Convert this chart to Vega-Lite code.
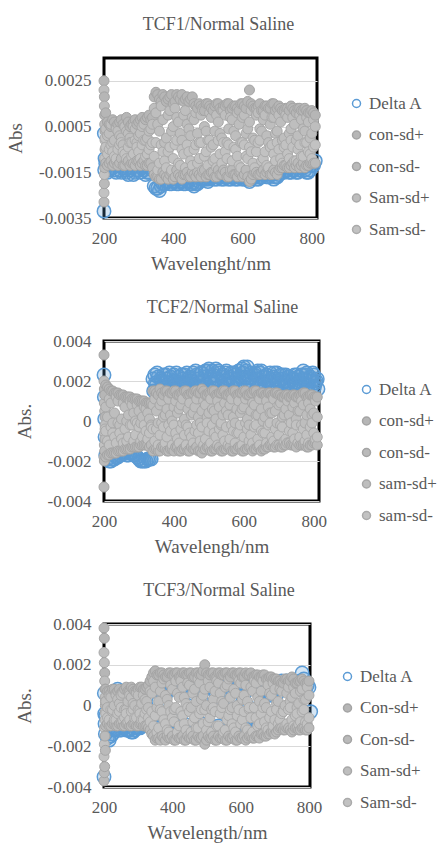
{
"$schema": "https://vega.github.io/schema/vega-lite/v6.json",
"background": "white",
"padding": {"left": 5, "top": 14, "right": 0, "bottom": 0},
"spacing": 22,
"config": {
  "font": "Liberation Serif",
  "view": {"stroke": "black", "strokeWidth": 3},
  "axis": {"labelFont": "Liberation Serif", "labelFontSize": 17, "labelColor": "#595959", "titleFont": "Liberation Serif", "titleFontSize": 19, "titleColor": "#595959", "titleFontWeight": "normal", "domain": false, "ticks": false, "grid": false, "labelFlush": false},
  "axisY": {"grid": true, "gridColor": "#d9d9d9", "gridWidth": 1, "labelPadding": 13, "titlePadding": 13},
  "axisX": {"labelPadding": 12, "titlePadding": 8},
  "title": {"font": "Liberation Serif", "fontSize": 18, "color": "#595959", "fontWeight": "normal", "offset": 24},
  "legend": {"symbolSize": 64, "symbolStrokeWidth": 1.5, "labelFontSize": 17, "labelFont": "Liberation Serif", "labelColor": "#595959", "rowPadding": 13.5, "labelOffset": 4, "padding": 0}
},
"resolve": {"scale": {"x": "independent", "y": "independent", "fill": "independent", "stroke": "independent"}, "legend": {"fill": "independent", "stroke": "independent"}},
"vconcat": [
{
  "title": {"text": "TCF1/Normal Saline", "dx": 8},
  "width": 213, "height": 160,
  "data": {"values": [
{"w":200,"d":-0.0032,"cp":0.0025,"sp":0.0021,"cm":-0.0028,"sm":-0.0024},
{"w":201,"d":0.0002,"cp":0.0018,"sp":0.0014,"cm":-0.002,"sm":-0.0016},
{"w":202,"d":-0.0014,"cp":0.001,"sp":0.0006,"cm":-0.0013,"sm":-0.0009},
{"w":203,"d":-0.0009,"cp":0.0003,"sp":-0.0001,"cm":-0.0005,"sm":0},
{"w":205,"d":-0.0011,"cp":0.0011,"sp":0.0004,"cm":-0.0011,"sm":-0.0004},
{"w":210,"d":-0.0015,"cp":0.0007,"sp":0.0001,"cm":-0.0012,"sm":-0.0007},
{"w":215,"d":-0.0014,"cp":0.0006,"sp":0.0002,"cm":-0.0011,"sm":-0.0005},
{"w":220,"d":-0.0013,"cp":0.0005,"sp":0.0006,"cm":-0.001,"sm":-0.0003},
{"w":225,"d":-0.0013,"cp":0.0008,"sp":-0.0002,"cm":-0.0012,"sm":-0.0006},
{"w":230,"d":-0.0014,"cp":0.0007,"sp":-0.0001,"cm":-0.0011,"sm":-0.0008},
{"w":235,"d":-0.0015,"cp":0.0005,"sp":0.0004,"cm":-0.001,"sm":-0.0009},
{"w":240,"d":-0.0012,"cp":0.0006,"sp":0.0003,"cm":-0.0012,"sm":-0.0005},
{"w":245,"d":-0.0014,"cp":0.0007,"sp":0.0001,"cm":-0.0011,"sm":-0.0003},
{"w":250,"d":-0.0015,"cp":0.0008,"sp":0,"cm":-0.0009,"sm":-0.0002},
{"w":255,"d":-0.0013,"cp":0.0006,"sp":-0.0003,"cm":-0.0012,"sm":-0.0006},
{"w":260,"d":-0.0014,"cp":0.0005,"sp":0.0005,"cm":-0.0012,"sm":-0.0007},
{"w":265,"d":-0.0015,"cp":0.0009,"sp":0.0003,"cm":-0.001,"sm":-0.0009},
{"w":270,"d":-0.0016,"cp":0.0007,"sp":0.0002,"cm":-0.001,"sm":-0.0004},
{"w":275,"d":-0.0014,"cp":0.0005,"sp":0,"cm":-0.0012,"sm":-0.0002},
{"w":280,"d":-0.0013,"cp":0.0006,"sp":-0.0002,"cm":-0.0011,"sm":-0.0008},
{"w":285,"d":-0.0016,"cp":0.0007,"sp":0.0005,"cm":-0.0011,"sm":-0.0007},
{"w":290,"d":-0.0015,"cp":0.0008,"sp":0.0004,"cm":-0.0012,"sm":-0.0001},
{"w":295,"d":-0.0014,"cp":0.0006,"sp":-0.0002,"cm":-0.001,"sm":-0.0004},
{"w":300,"d":-0.0014,"cp":0.0007,"sp":0.0001,"cm":-0.001,"sm":-0.0006},
{"w":305,"d":-0.0015,"cp":0.0008,"sp":0.0002,"cm":-0.0012,"sm":-0.0009},
{"w":310,"d":-0.0013,"cp":0.0009,"sp":0.0005,"cm":-0.0011,"sm":-0.0003},
{"w":315,"d":-0.0014,"cp":0.0007,"sp":0.0006,"cm":-0.001,"sm":-0.0001},
{"w":320,"d":-0.0016,"cp":0.0008,"sp":-0.0001,"cm":-0.0012,"sm":-0.0008},
{"w":325,"d":-0.0015,"cp":0.0009,"sp":0,"cm":-0.0012,"sm":-0.0007},
{"w":330,"d":-0.0015,"cp":0.001,"sp":0.0003,"cm":-0.0011,"sm":-0.0005},
{"w":335,"d":-0.0013,"cp":0.0008,"sp":0.0004,"cm":-0.0011,"sm":-0.0003},
{"w":340,"d":-0.0014,"cp":0.0009,"sp":0.0006,"cm":-0.0013,"sm":-0.0002},
{"w":345,"d":-0.0021,"cp":0.0018,"sp":0.0013,"cm":-0.0016,"sm":-0.0008},
{"w":350,"d":-0.0022,"cp":0.002,"sp":0.0011,"cm":-0.0017,"sm":-0.0002},
{"w":355,"d":-0.0022,"cp":0.0019,"sp":0.0006,"cm":-0.0017,"sm":-0.0014},
{"w":360,"d":-0.0023,"cp":0.0017,"sp":0.0003,"cm":-0.0018,"sm":-0.0011},
{"w":365,"d":-0.0021,"cp":0.0016,"sp":0.0014,"cm":-0.0018,"sm":-0.0003},
{"w":370,"d":-0.002,"cp":0.0019,"sp":0.0008,"cm":-0.0015,"sm":-0.0006},
{"w":375,"d":-0.002,"cp":0.0018,"sp":-0.0002,"cm":-0.0016,"sm":-0.001},
{"w":380,"d":-0.0019,"cp":0.0016,"sp":0,"cm":-0.0017,"sm":-0.0013},
{"w":385,"d":-0.0019,"cp":0.0017,"sp":0.001,"cm":-0.0018,"sm":-0.0006},
{"w":390,"d":-0.002,"cp":0.0018,"sp":0.0012,"cm":-0.0016,"sm":-0.0004},
{"w":395,"d":-0.002,"cp":0.0019,"sp":0.0003,"cm":-0.0015,"sm":-0.0014},
{"w":400,"d":-0.0019,"cp":0.0015,"sp":0.0005,"cm":-0.0018,"sm":-0.0009},
{"w":405,"d":-0.0019,"cp":0.0016,"sp":0.0013,"cm":-0.0017,"sm":-0.0003},
{"w":410,"d":-0.002,"cp":0.0019,"sp":0.0009,"cm":-0.0014,"sm":-0.0001},
{"w":415,"d":-0.002,"cp":0.0018,"sp":0.0007,"cm":-0.0016,"sm":-0.0011},
{"w":420,"d":-0.0019,"cp":0.0017,"sp":0.0002,"cm":-0.0017,"sm":-0.0012},
{"w":425,"d":-0.0019,"cp":0.0019,"sp":-0.0001,"cm":-0.0018,"sm":-0.0005},
{"w":430,"d":-0.002,"cp":0.0016,"sp":0.001,"cm":-0.0016,"sm":-0.0007},
{"w":435,"d":-0.002,"cp":0.0017,"sp":0.0012,"cm":-0.0016,"sm":-0.0013},
{"w":440,"d":-0.0019,"cp":0.0018,"sp":0.0006,"cm":-0.0015,"sm":-0.0003},
{"w":445,"d":-0.0019,"cp":0.0016,"sp":0.0004,"cm":-0.0017,"sm":-0.0006},
{"w":450,"d":-0.002,"cp":0.0017,"sp":0.0001,"cm":-0.0017,"sm":-0.001},
{"w":455,"d":-0.002,"cp":0.0018,"sp":0.0009,"cm":-0.0015,"sm":-0.0012},
{"w":460,"d":-0.0021,"cp":0.0015,"sp":0.0008,"cm":-0.0016,"sm":-0.0005},
{"w":465,"d":-0.002,"cp":0.0014,"sp":0.0011,"cm":-0.0017,"sm":-0.0003},
{"w":470,"d":-0.002,"cp":0.0013,"sp":0.0002,"cm":-0.0015,"sm":-0.0011},
{"w":475,"d":-0.0019,"cp":0.0015,"sp":-0.0002,"cm":-0.0016,"sm":-0.0009},
{"w":480,"d":-0.0018,"cp":0.0014,"sp":0.001,"cm":-0.0017,"sm":-0.0002},
{"w":485,"d":-0.0018,"cp":0.0013,"sp":0.0012,"cm":-0.0015,"sm":-0.0014},
{"w":490,"d":-0.0018,"cp":0.0012,"sp":0.0005,"cm":-0.0014,"sm":-0.0008},
{"w":495,"d":-0.0018,"cp":0.0015,"sp":0.0003,"cm":-0.0017,"sm":-0.0006},
{"w":500,"d":-0.0019,"cp":0.0015,"sp":-0.0001,"cm":-0.0016,"sm":-0.0012},
{"w":505,"d":-0.0018,"cp":0.0014,"sp":0.0011,"cm":-0.0016,"sm":-0.0001},
{"w":510,"d":-0.0017,"cp":0.0013,"sp":0.0009,"cm":-0.0015,"sm":-0.0004},
{"w":515,"d":-0.0017,"cp":0.0012,"sp":-0.0003,"cm":-0.0015,"sm":-0.001},
{"w":520,"d":-0.0018,"cp":0.0014,"sp":0.0003,"cm":-0.0017,"sm":-0.0009},
{"w":525,"d":-0.0018,"cp":0.0015,"sp":0.001,"cm":-0.0017,"sm":-0.0013},
{"w":530,"d":-0.0017,"cp":0.0015,"sp":0.0007,"cm":-0.0014,"sm":-0.0001},
{"w":535,"d":-0.0017,"cp":0.0013,"sp":0.0002,"cm":-0.0016,"sm":-0.0007},
{"w":540,"d":-0.0018,"cp":0.0012,"sp":0,"cm":-0.0016,"sm":-0.0011},
{"w":545,"d":-0.0018,"cp":0.0014,"sp":0.0012,"cm":-0.0014,"sm":-0.0002},
{"w":550,"d":-0.0017,"cp":0.0014,"sp":0.001,"cm":-0.0015,"sm":-0.0006},
{"w":555,"d":-0.0017,"cp":0.0015,"sp":-0.0002,"cm":-0.0017,"sm":-0.0009},
{"w":560,"d":-0.0018,"cp":0.0015,"sp":0.0004,"cm":-0.0017,"sm":-0.0003},
{"w":565,"d":-0.0018,"cp":0.0012,"sp":0.0009,"cm":-0.0015,"sm":-0.0014},
{"w":570,"d":-0.0017,"cp":0.0013,"sp":0.0008,"cm":-0.0014,"sm":-0.001},
{"w":575,"d":-0.0017,"cp":0.0014,"sp":0.0003,"cm":-0.0016,"sm":-0.0004},
{"w":580,"d":-0.0018,"cp":0.0014,"sp":0.0001,"cm":-0.0016,"sm":-0.0005},
{"w":585,"d":-0.0018,"cp":0.0013,"sp":0.0011,"cm":-0.0017,"sm":-0.0008},
{"w":590,"d":-0.0017,"cp":0.0012,"sp":0.0006,"cm":-0.0015,"sm":-0.0012},
{"w":595,"d":-0.0017,"cp":0.0015,"sp":-0.0002,"cm":-0.0015,"sm":-0.0013},
{"w":600,"d":-0.0018,"cp":0.0015,"sp":0.0009,"cm":-0.0017,"sm":-0.0002},
{"w":605,"d":-0.0018,"cp":0.0014,"sp":0.001,"cm":-0.0016,"sm":-0.0003},
{"w":610,"d":-0.0017,"cp":0.0013,"sp":0.0002,"cm":-0.0014,"sm":-0.0008},
{"w":615,"d":-0.0018,"cp":0.0016,"sp":0.0004,"cm":-0.0017,"sm":-0.0009},
{"w":620,"d":-0.0019,"cp":0.0021,"sp":0.0007,"cm":-0.0019,"sm":-0.0004},
{"w":625,"d":-0.0018,"cp":0.0015,"sp":0.0012,"cm":-0.0018,"sm":-0.0006},
{"w":630,"d":-0.0017,"cp":0.0014,"sp":0,"cm":-0.0016,"sm":-0.0011},
{"w":635,"d":-0.0017,"cp":0.0013,"sp":-0.0001,"cm":-0.0015,"sm":-0.0013},
{"w":640,"d":-0.0018,"cp":0.0013,"sp":0.001,"cm":-0.0015,"sm":-0.0006},
{"w":645,"d":-0.0018,"cp":0.0014,"sp":0.0011,"cm":-0.0016,"sm":-0.0002},
{"w":650,"d":-0.0017,"cp":0.0015,"sp":0.0004,"cm":-0.0016,"sm":-0.0001},
{"w":655,"d":-0.0017,"cp":0.0012,"sp":0.0003,"cm":-0.0015,"sm":-0.001},
{"w":660,"d":-0.0016,"cp":0.0012,"sp":0.0008,"cm":-0.0014,"sm":-0.0009},
{"w":665,"d":-0.0016,"cp":0.0014,"sp":0.001,"cm":-0.0016,"sm":-0.0006},
{"w":670,"d":-0.0017,"cp":0.0014,"sp":0.0001,"cm":-0.0015,"sm":-0.0012},
{"w":675,"d":-0.0017,"cp":0.0013,"sp":-0.0002,"cm":-0.0014,"sm":-0.0013},
{"w":680,"d":-0.0016,"cp":0.0013,"sp":0.0006,"cm":-0.0016,"sm":-0.0004},
{"w":685,"d":-0.0016,"cp":0.0015,"sp":0.0009,"cm":-0.0016,"sm":-0.0003},
{"w":690,"d":-0.0018,"cp":0.0015,"sp":0.0009,"cm":-0.0014,"sm":-0.0007},
{"w":695,"d":-0.0017,"cp":0.0012,"sp":0.0002,"cm":-0.0015,"sm":-0.001},
{"w":700,"d":-0.0017,"cp":0.0013,"sp":0.0003,"cm":-0.0016,"sm":-0.0002},
{"w":705,"d":-0.0016,"cp":0.0014,"sp":0.001,"cm":-0.0014,"sm":-0.0005},
{"w":710,"d":-0.0014,"cp":0.0013,"sp":0.0007,"cm":-0.0013,"sm":-0.0009},
{"w":715,"d":-0.0015,"cp":0.0012,"sp":-0.0001,"cm":-0.0013,"sm":-0.0011},
{"w":720,"d":-0.0015,"cp":0.0012,"sp":0,"cm":-0.0012,"sm":-0.0004},
{"w":725,"d":-0.0014,"cp":0.0013,"sp":0.001,"cm":-0.0012,"sm":-0.0003},
{"w":730,"d":-0.0014,"cp":0.0013,"sp":0.0009,"cm":-0.0013,"sm":-0.0007},
{"w":735,"d":-0.0015,"cp":0.0012,"sp":0.0002,"cm":-0.0013,"sm":-0.0009},
{"w":740,"d":-0.0015,"cp":0.0014,"sp":0.0004,"cm":-0.0012,"sm":-0.0001},
{"w":745,"d":-0.0014,"cp":0.0013,"sp":0.0009,"cm":-0.0011,"sm":-0.0004},
{"w":750,"d":-0.0014,"cp":0.0012,"sp":0.0006,"cm":-0.0013,"sm":-0.001},
{"w":755,"d":-0.0015,"cp":0.0011,"sp":-0.0001,"cm":-0.0012,"sm":-0.001},
{"w":760,"d":-0.0015,"cp":0.0013,"sp":0.0001,"cm":-0.0011,"sm":-0.0005},
{"w":765,"d":-0.0014,"cp":0.0013,"sp":0.001,"cm":-0.0013,"sm":-0.0003},
{"w":770,"d":-0.0013,"cp":0.0012,"sp":0.0008,"cm":-0.0012,"sm":-0.0008},
{"w":775,"d":-0.0013,"cp":0.0012,"sp":0.0004,"cm":-0.0011,"sm":-0.0008},
{"w":780,"d":-0.0014,"cp":0.0013,"sp":0.0003,"cm":-0.0013,"sm":-0.0002},
{"w":785,"d":-0.0015,"cp":0.0012,"sp":0.0009,"cm":-0.0012,"sm":-0.0002},
{"w":790,"d":-0.0015,"cp":0.0011,"sp":0.0007,"cm":-0.0012,"sm":-0.0006},
{"w":795,"d":-0.0014,"cp":0.0011,"sp":0,"cm":-0.0011,"sm":-0.0007},
{"w":800,"d":-0.0012,"cp":0.0012,"sp":0.0002,"cm":-0.0011,"sm":-0.0009},
{"w":805,"d":-0.0012,"cp":0.0011,"sp":0.0008,"cm":-0.0011,"sm":-0.0004},
{"w":810,"d":-0.001,"cp":0.001,"sp":0.0005,"cm":-0.0011,"sm":-0.0003}
  ]},
  "transform": [{"fold": ["d", "cp", "cm", "sp", "sm"], "as": ["k", "v"]}],
  "encoding": {
    "x": {"field": "w", "type": "quantitative", "scale": {"domain": [200, 815], "nice": false, "zero": false}, "axis": {"values": [200, 400, 600, 800], "title": "Wavelenght/nm"}},
    "y": {"field": "v", "type": "quantitative", "scale": {"domain": [-0.0035, 0.0035], "nice": false, "zero": false}, "axis": {"values": [-0.0035, -0.0015, 0.0005, 0.0025], "title": "Abs", "labelExpr": "'' + datum.value"}},
    "fill": {"field": "k", "type": "nominal", "scale": {"domain": ["d", "cp", "cm", "sp", "sm"], "range": ["transparent", "#b6b6b6", "#bababa", "#bebebe", "#c2c2c2"]}, "legend": {"title": null, "orient": "none", "legendX": 244, "legendY": 37, "labelExpr": "datum.value == 'd' ? 'Delta A' : datum.value == 'cp' ? 'con-sd+' : datum.value == 'cm' ? 'con-sd-' : datum.value == 'sp' ? 'Sam-sd+' : 'Sam-sd-'"}},
    "stroke": {"field": "k", "type": "nominal", "scale": {"domain": ["d", "cp", "cm", "sp", "sm"], "range": ["#5b9bd5", "#a4a4a4", "#a4a4a4", "#a8a8a8", "#aaaaaa"]}, "legend": {"title": null, "orient": "none", "legendX": 244, "legendY": 37, "labelExpr": "datum.value == 'd' ? 'Delta A' : datum.value == 'cp' ? 'con-sd+' : datum.value == 'cm' ? 'con-sd-' : datum.value == 'sp' ? 'Sam-sd+' : 'Sam-sd-'"}}
  },
  "layer": [
    {"transform": [{"filter": "datum.k == 'd'"}], "mark": {"type": "circle", "size": 180, "strokeWidth": 1.5, "opacity": 1}, "encoding": {"fill": {"value": "rgba(91,155,213,0.25)"}}},
    {"transform": [{"filter": "datum.k != 'd'"}], "mark": {"type": "circle", "size": 100, "strokeWidth": 1, "opacity": 1}}
  ]
},
{
  "title": {"text": "TCF2/Normal Saline", "dx": 11, "offset": 15},
  "width": 215, "height": 160,
  "data": {"values": [
{"w":200,"d":0.0023,"cp":0.0033,"sp":0.002,"cm":-0.0033,"sm":-0.0018},
{"w":201,"d":0.0012,"cp":0.0016,"sp":0.0009,"cm":-0.002,"sm":-0.0012},
{"w":202,"d":0.0001,"cp":0.0013,"sp":0.0005,"cm":-0.0015,"sm":-0.0006},
{"w":203,"d":-0.0008,"cp":0.0002,"sp":-0.0002,"cm":-0.0009,"sm":-0.0004},
{"w":205,"d":-0.0017,"cp":0.0018,"sp":0.0007,"cm":-0.0018,"sm":-0.0005},
{"w":210,"d":-0.0019,"cp":0.0017,"sp":0.0002,"cm":-0.0017,"sm":-0.001},
{"w":215,"d":-0.002,"cp":0.0016,"sp":0.0011,"cm":-0.0017,"sm":-0.0012},
{"w":220,"d":-0.002,"cp":0.0015,"sp":0.0009,"cm":-0.0016,"sm":-0.0003},
{"w":225,"d":-0.0019,"cp":0.0015,"sp":-0.0001,"cm":-0.0016,"sm":-0.0006},
{"w":230,"d":-0.0019,"cp":0.0014,"sp":0.0004,"cm":-0.0016,"sm":-0.0008},
{"w":235,"d":-0.0018,"cp":0.0014,"sp":0.0012,"cm":-0.0016,"sm":-0.0011},
{"w":240,"d":-0.0018,"cp":0.0014,"sp":0.001,"cm":-0.0015,"sm":-0.0001},
{"w":245,"d":-0.0017,"cp":0.0013,"sp":-0.0002,"cm":-0.0015,"sm":-0.0006},
{"w":250,"d":-0.0016,"cp":0.0013,"sp":0.0001,"cm":-0.0015,"sm":-0.0009},
{"w":255,"d":-0.0016,"cp":0.0013,"sp":0.0009,"cm":-0.0015,"sm":-0.0011},
{"w":260,"d":-0.0016,"cp":0.0012,"sp":0.0007,"cm":-0.0014,"sm":-0.0004},
{"w":265,"d":-0.0017,"cp":0.0012,"sp":0,"cm":-0.0014,"sm":-0.001},
{"w":270,"d":-0.0017,"cp":0.0012,"sp":0.0003,"cm":-0.0014,"sm":-0.0008},
{"w":275,"d":-0.0016,"cp":0.0012,"sp":0.001,"cm":-0.0014,"sm":-0.0002},
{"w":280,"d":-0.0016,"cp":0.0011,"sp":0.0008,"cm":-0.0013,"sm":-0.0002},
{"w":285,"d":-0.0017,"cp":0.0011,"sp":0.0004,"cm":-0.0013,"sm":-0.001},
{"w":290,"d":-0.0017,"cp":0.0011,"sp":0,"cm":-0.0013,"sm":-0.0007},
{"w":295,"d":-0.0018,"cp":0.0011,"sp":0.0008,"cm":-0.0013,"sm":-0.0001},
{"w":300,"d":-0.0019,"cp":0.001,"sp":0.0005,"cm":-0.0013,"sm":-0.0003},
{"w":305,"d":-0.002,"cp":0.001,"sp":-0.0001,"cm":-0.0012,"sm":-0.001},
{"w":310,"d":-0.002,"cp":0.001,"sp":0.0002,"cm":-0.0012,"sm":-0.0008},
{"w":315,"d":-0.002,"cp":0.001,"sp":0.0007,"cm":-0.0012,"sm":-0.0002},
{"w":320,"d":-0.002,"cp":0.0009,"sp":0.0006,"cm":-0.0012,"sm":-0.0005},
{"w":325,"d":-0.0019,"cp":0.0009,"sp":0.0004,"cm":-0.0012,"sm":-0.0009},
{"w":330,"d":-0.0019,"cp":0.0009,"sp":0.0001,"cm":-0.0013,"sm":-0.0006},
{"w":335,"d":-0.0019,"cp":0.0009,"sp":-0.0002,"cm":-0.0012,"sm":-0.0003},
{"w":340,"d":0.0021,"cp":0.0015,"sp":0.0008,"cm":-0.0015,"sm":-0.0004},
{"w":345,"d":0.0023,"cp":0.0015,"sp":0.0011,"cm":-0.0014,"sm":-0.001},
{"w":350,"d":0.0018,"cp":0.0014,"sp":0.0005,"cm":-0.0014,"sm":-0.0004},
{"w":355,"d":0.0022,"cp":0.0013,"sp":-0.0001,"cm":-0.0015,"sm":-0.0012},
{"w":360,"d":0.0016,"cp":0.0016,"sp":0.0008,"cm":-0.0015,"sm":-0.0007},
{"w":365,"d":0.002,"cp":0.0014,"sp":0.001,"cm":-0.0013,"sm":-0.0001},
{"w":370,"d":0.0023,"cp":0.0013,"sp":0.0002,"cm":-0.0013,"sm":-0.0003},
{"w":375,"d":0.0017,"cp":0.0015,"sp":0.0003,"cm":-0.0014,"sm":-0.0011},
{"w":380,"d":0.0021,"cp":0.0015,"sp":0.0006,"cm":-0.0015,"sm":-0.0008},
{"w":385,"d":0.0019,"cp":0.0013,"sp":0.0011,"cm":-0.0015,"sm":-0.0002},
{"w":390,"d":0.0022,"cp":0.0014,"sp":0.0003,"cm":-0.0014,"sm":-0.0005},
{"w":395,"d":0.0016,"cp":0.0014,"sp":0,"cm":-0.0014,"sm":-0.0012},
{"w":400,"d":0.0023,"cp":0.0015,"sp":0.0007,"cm":-0.0015,"sm":-0.0002},
{"w":405,"d":0.002,"cp":0.0015,"sp":0.001,"cm":-0.0013,"sm":-0.0006},
{"w":410,"d":0.0018,"cp":0.0013,"sp":0.0004,"cm":-0.0013,"sm":-0.0009},
{"w":415,"d":0.0022,"cp":0.0013,"sp":0.0006,"cm":-0.0015,"sm":-0.0011},
{"w":420,"d":0.0017,"cp":0.0014,"sp":0.0008,"cm":-0.0015,"sm":-0.0004},
{"w":425,"d":0.0021,"cp":0.0014,"sp":0.0011,"cm":-0.0014,"sm":-0.0001},
{"w":430,"d":0.0023,"cp":0.0015,"sp":0.0001,"cm":-0.0014,"sm":-0.0007},
{"w":435,"d":0.0019,"cp":0.0015,"sp":-0.0002,"cm":-0.0013,"sm":-0.0012},
{"w":440,"d":0.0016,"cp":0.0013,"sp":0.0006,"cm":-0.0015,"sm":-0.0003},
{"w":445,"d":0.0022,"cp":0.0013,"sp":0.0009,"cm":-0.0015,"sm":-0.0006},
{"w":450,"d":0.002,"cp":0.0014,"sp":0.0003,"cm":-0.0013,"sm":-0.0008},
{"w":455,"d":0.0024,"cp":0.0014,"sp":0.0004,"cm":-0.0014,"sm":-0.0011},
{"w":460,"d":0.0018,"cp":0.0015,"sp":0.0007,"cm":-0.0014,"sm":-0.0005},
{"w":465,"d":0.0023,"cp":0.0015,"sp":0.0011,"cm":-0.0013,"sm":-0.0002},
{"w":470,"d":0.0021,"cp":0.0014,"sp":0.0002,"cm":-0.0015,"sm":-0.0006},
{"w":475,"d":0.0017,"cp":0.0014,"sp":-0.0001,"cm":-0.0015,"sm":-0.001},
{"w":480,"d":0.0024,"cp":0.0016,"sp":0.0005,"cm":-0.0016,"sm":-0.0003},
{"w":485,"d":0.002,"cp":0.0015,"sp":0.001,"cm":-0.0014,"sm":-0.0012},
{"w":490,"d":0.0025,"cp":0.0013,"sp":0.0008,"cm":-0.0014,"sm":-0.0009},
{"w":495,"d":0.0018,"cp":0.0013,"sp":0.0002,"cm":-0.0013,"sm":-0.0001},
{"w":500,"d":0.0026,"cp":0.0014,"sp":0.0004,"cm":-0.0013,"sm":-0.0005},
{"w":505,"d":0.0022,"cp":0.0014,"sp":0.0011,"cm":-0.0015,"sm":-0.0011},
{"w":510,"d":0.0025,"cp":0.0015,"sp":0.0006,"cm":-0.0015,"sm":-0.0002},
{"w":515,"d":0.0019,"cp":0.0015,"sp":0.0005,"cm":-0.0014,"sm":-0.0006},
{"w":520,"d":0.0026,"cp":0.0013,"sp":0.0001,"cm":-0.0014,"sm":-0.0008},
{"w":525,"d":0.0021,"cp":0.0013,"sp":0.001,"cm":-0.0013,"sm":-0.0012},
{"w":530,"d":0.0024,"cp":0.0014,"sp":0.0007,"cm":-0.0013,"sm":-0.0004},
{"w":535,"d":0.0017,"cp":0.0014,"sp":-0.0002,"cm":-0.0015,"sm":-0.0001},
{"w":540,"d":0.0023,"cp":0.0015,"sp":0.0003,"cm":-0.0015,"sm":-0.0007},
{"w":545,"d":0.002,"cp":0.0015,"sp":0.0009,"cm":-0.0014,"sm":-0.001},
{"w":550,"d":0.0025,"cp":0.0013,"sp":0.0005,"cm":-0.0014,"sm":-0.0003},
{"w":555,"d":0.0018,"cp":0.0013,"sp":0.0003,"cm":-0.0013,"sm":-0.0012},
{"w":560,"d":0.0022,"cp":0.0014,"sp":0.0008,"cm":-0.0013,"sm":-0.0009},
{"w":565,"d":0.0024,"cp":0.0014,"sp":0.0011,"cm":-0.0015,"sm":-0.0002},
{"w":570,"d":0.0019,"cp":0.0015,"sp":0.0002,"cm":-0.0015,"sm":-0.0005},
{"w":575,"d":0.0023,"cp":0.0015,"sp":-0.0001,"cm":-0.0014,"sm":-0.0011},
{"w":580,"d":0.0021,"cp":0.0013,"sp":0.0006,"cm":-0.0014,"sm":-0.0006},
{"w":585,"d":0.0025,"cp":0.0013,"sp":0.001,"cm":-0.0013,"sm":-0.0006},
{"w":590,"d":0.0018,"cp":0.0014,"sp":0.0004,"cm":-0.0013,"sm":-0.0002},
{"w":595,"d":0.0026,"cp":0.0014,"sp":0.0006,"cm":-0.0015,"sm":-0.0012},
{"w":600,"d":0.0027,"cp":0.0015,"sp":0.0007,"cm":-0.0015,"sm":-0.0008},
{"w":605,"d":0.0022,"cp":0.0015,"sp":0.0011,"cm":-0.0014,"sm":-0.0001},
{"w":610,"d":0.0027,"cp":0.0013,"sp":0.0001,"cm":-0.0014,"sm":-0.0004},
{"w":615,"d":0.002,"cp":0.0013,"sp":-0.0002,"cm":-0.0013,"sm":-0.001},
{"w":620,"d":0.0024,"cp":0.0014,"sp":0.0005,"cm":-0.0013,"sm":-0.0007},
{"w":625,"d":0.0018,"cp":0.0014,"sp":0.0009,"cm":-0.0015,"sm":-0.0011},
{"w":630,"d":0.0023,"cp":0.0015,"sp":0.0008,"cm":-0.0014,"sm":-0.0003},
{"w":635,"d":0.0021,"cp":0.0015,"sp":0.0003,"cm":-0.0014,"sm":-0.0002},
{"w":640,"d":0.0025,"cp":0.0013,"sp":0.0003,"cm":-0.0013,"sm":-0.0009},
{"w":645,"d":0.0019,"cp":0.0013,"sp":0.0011,"cm":-0.0013,"sm":-0.0012},
{"w":650,"d":0.0025,"cp":0.0014,"sp":0.0006,"cm":-0.0015,"sm":-0.0005},
{"w":655,"d":0.0022,"cp":0.0014,"sp":0,"cm":-0.0014,"sm":-0.0006},
{"w":660,"d":0.0017,"cp":0.0013,"sp":0.0002,"cm":-0.0014,"sm":-0.0006},
{"w":665,"d":0.0023,"cp":0.0013,"sp":0.001,"cm":-0.0013,"sm":-0.0011},
{"w":670,"d":0.002,"cp":0.0014,"sp":0.0007,"cm":-0.0013,"sm":-0.0002},
{"w":675,"d":0.0024,"cp":0.0014,"sp":0.0004,"cm":-0.0012,"sm":-0.0001},
{"w":680,"d":0.0018,"cp":0.0013,"sp":0.0004,"cm":-0.0012,"sm":-0.0008},
{"w":685,"d":0.0022,"cp":0.0013,"sp":0.0011,"cm":-0.0013,"sm":-0.001},
{"w":690,"d":0.0021,"cp":0.0014,"sp":0.0005,"cm":-0.0013,"sm":-0.0004},
{"w":695,"d":0.0024,"cp":0.0014,"sp":-0.0001,"cm":-0.0012,"sm":-0.0012},
{"w":700,"d":0.0019,"cp":0.0013,"sp":0.0008,"cm":-0.0012,"sm":-0.0007},
{"w":705,"d":0.0023,"cp":0.0013,"sp":0.0009,"cm":-0.0013,"sm":-0.0002},
{"w":710,"d":0.0021,"cp":0.0012,"sp":0.0002,"cm":-0.0013,"sm":-0.0003},
{"w":715,"d":0.0017,"cp":0.0012,"sp":0.0003,"cm":-0.0012,"sm":-0.001},
{"w":720,"d":0.0023,"cp":0.0013,"sp":0.0006,"cm":-0.0012,"sm":-0.0009},
{"w":725,"d":0.002,"cp":0.0013,"sp":0.001,"cm":-0.0011,"sm":-0.0011},
{"w":730,"d":0.0022,"cp":0.0012,"sp":0.0003,"cm":-0.0011,"sm":-0.0005},
{"w":735,"d":0.0018,"cp":0.0012,"sp":-0.0001,"cm":-0.0012,"sm":-0.0001},
{"w":740,"d":0.0021,"cp":0.0013,"sp":0.0007,"cm":-0.0012,"sm":-0.0006},
{"w":745,"d":0.0023,"cp":0.0013,"sp":0.0009,"cm":-0.0012,"sm":-0.0009},
{"w":750,"d":0.0019,"cp":0.0012,"sp":0.0001,"cm":-0.0013,"sm":-0.0002},
{"w":755,"d":0.0022,"cp":0.0012,"sp":0.0005,"cm":-0.0011,"sm":-0.0011},
{"w":760,"d":0.002,"cp":0.0013,"sp":0.0005,"cm":-0.0012,"sm":-0.0008},
{"w":765,"d":0.0023,"cp":0.0013,"sp":0.001,"cm":-0.0012,"sm":-0.0002},
{"w":770,"d":0.0025,"cp":0.0014,"sp":0.0008,"cm":-0.0012,"sm":-0.0004},
{"w":775,"d":0.0021,"cp":0.0014,"sp":-0.0001,"cm":-0.0012,"sm":-0.001},
{"w":780,"d":0.0024,"cp":0.0012,"sp":0.0003,"cm":-0.0013,"sm":-0.0007},
{"w":785,"d":0.0018,"cp":0.0012,"sp":0.0009,"cm":-0.0013,"sm":-0.0011},
{"w":790,"d":0.0022,"cp":0.0013,"sp":0.0006,"cm":-0.0012,"sm":-0.0003},
{"w":795,"d":0.002,"cp":0.0013,"sp":0.0003,"cm":-0.0012,"sm":-0.0001},
{"w":800,"d":0.0023,"cp":0.0012,"sp":0.0004,"cm":-0.0011,"sm":-0.0006},
{"w":805,"d":0.0019,"cp":0.0012,"sp":0.001,"cm":-0.0011,"sm":-0.0009},
{"w":810,"d":0.0021,"cp":0.0012,"sp":0.0002,"cm":-0.0012,"sm":-0.0008},
{"w":342,"d":0.0015},{"w":347,"d":0.0019},{"w":352,"d":0.0024},{"w":357,"d":0.0014},{"w":362,"d":0.0021},
{"w":367,"d":0.0017},{"w":372,"d":0.0013},{"w":377,"d":0.0023},{"w":382,"d":0.0016},{"w":387,"d":0.0024},
{"w":392,"d":0.0014},{"w":397,"d":0.002},{"w":402,"d":0.0017},{"w":407,"d":0.0024},{"w":412,"d":0.0015},
{"w":417,"d":0.0019},{"w":422,"d":0.0023},{"w":427,"d":0.0014},{"w":432,"d":0.0018},{"w":437,"d":0.0024},
{"w":442,"d":0.0015},{"w":447,"d":0.0021},{"w":452,"d":0.0017},{"w":457,"d":0.0014},{"w":462,"d":0.0025},
{"w":467,"d":0.0016},{"w":472,"d":0.0019},{"w":477,"d":0.0024},{"w":482,"d":0.0015},{"w":487,"d":0.0022},
{"w":492,"d":0.0017},{"w":497,"d":0.0025},{"w":502,"d":0.0015},{"w":507,"d":0.0019},{"w":512,"d":0.0023},
{"w":517,"d":0.0016},{"w":522,"d":0.0021},{"w":527,"d":0.0025},{"w":532,"d":0.0014},{"w":537,"d":0.0022},
{"w":542,"d":0.0017},{"w":547,"d":0.0024},{"w":552,"d":0.0015},{"w":557,"d":0.0021},{"w":562,"d":0.0018},
{"w":567,"d":0.0014},{"w":572,"d":0.0024},{"w":577,"d":0.0016},{"w":582,"d":0.0019},{"w":587,"d":0.0022},
{"w":592,"d":0.0015},{"w":597,"d":0.0024},{"w":602,"d":0.0017},{"w":607,"d":0.0025},{"w":612,"d":0.0015},
{"w":617,"d":0.0022},{"w":622,"d":0.0019},{"w":627,"d":0.0014},{"w":632,"d":0.0024},{"w":637,"d":0.0016},
{"w":642,"d":0.0021},{"w":647,"d":0.0024},{"w":652,"d":0.0015},{"w":657,"d":0.0019},{"w":662,"d":0.0022},
{"w":667,"d":0.0014},{"w":672,"d":0.0017},{"w":677,"d":0.0021},{"w":682,"d":0.0015},{"w":687,"d":0.0024},
{"w":692,"d":0.0016},{"w":697,"d":0.002},{"w":702,"d":0.0014},{"w":707,"d":0.0018},{"w":712,"d":0.0023},
{"w":717,"d":0.0015},{"w":722,"d":0.0019},{"w":727,"d":0.0022},{"w":732,"d":0.0014},{"w":737,"d":0.0021},
{"w":742,"d":0.0016},{"w":747,"d":0.0019},{"w":752,"d":0.0023},{"w":757,"d":0.0015},{"w":762,"d":0.0018},
{"w":767,"d":0.0021},{"w":772,"d":0.0014},{"w":777,"d":0.0023},{"w":782,"d":0.0016},{"w":787,"d":0.0021},
{"w":792,"d":0.0015},{"w":797,"d":0.0024},{"w":802,"d":0.0017},{"w":807,"d":0.002},{"w":812,"d":0.0016}
  ]},
  "transform": [{"fold": ["d", "cp", "cm", "sp", "sm"], "as": ["k", "v"]}],
  "encoding": {
    "x": {"field": "w", "type": "quantitative", "scale": {"domain": [200, 815], "nice": false, "zero": false}, "axis": {"values": [200, 400, 600, 800], "title": "Wavelengh/nm"}},
    "y": {"field": "v", "type": "quantitative", "scale": {"domain": [-0.004, 0.004], "nice": false, "zero": false}, "axis": {"values": [-0.004, -0.002, 0, 0.002, 0.004], "title": "Abs.", "labelExpr": "'' + datum.value"}},
    "fill": {"field": "k", "type": "nominal", "scale": {"domain": ["d", "cp", "cm", "sp", "sm"], "range": ["transparent", "#b6b6b6", "#bababa", "#bebebe", "#c2c2c2"]}, "legend": {"title": null, "orient": "none", "legendX": 254, "legendY": 40, "labelExpr": "datum.value == 'd' ? 'Delta A' : datum.value == 'cp' ? 'con-sd+' : datum.value == 'cm' ? 'con-sd-' : datum.value == 'sp' ? 'sam-sd+' : 'sam-sd-'"}},
    "stroke": {"field": "k", "type": "nominal", "scale": {"domain": ["d", "cp", "cm", "sp", "sm"], "range": ["#5b9bd5", "#a4a4a4", "#a4a4a4", "#a8a8a8", "#aaaaaa"]}, "legend": {"title": null, "orient": "none", "legendX": 254, "legendY": 40, "labelExpr": "datum.value == 'd' ? 'Delta A' : datum.value == 'cp' ? 'con-sd+' : datum.value == 'cm' ? 'con-sd-' : datum.value == 'sp' ? 'sam-sd+' : 'sam-sd-'"}}
  },
  "layer": [
    {"transform": [{"filter": "datum.k == 'd'"}], "mark": {"type": "circle", "size": 180, "strokeWidth": 1.5, "opacity": 1}, "encoding": {"fill": {"value": "rgba(91,155,213,0.25)"}}},
    {"transform": [{"filter": "datum.k != 'd'"}], "mark": {"type": "circle", "size": 100, "strokeWidth": 1, "opacity": 1}}
  ]
},
{
  "title": {"text": "TCF3/Normal Saline", "dx": 12, "offset": 15},
  "width": 206, "height": 163,
  "data": {"values": [
{"w":200,"d":-0.0035,"cp":0.0038,"sp":0.0026,"cm":-0.0037,"sm":-0.0025},
{"w":201,"d":0.0006,"cp":0.0033,"sp":0.0021,"cm":-0.0033,"sm":-0.0019},
{"w":202,"d":-0.0004,"cp":0.0016,"sp":0.0012,"cm":-0.003,"sm":-0.0011},
{"w":203,"d":-0.0009,"cp":0.0008,"sp":0.0004,"cm":-0.0015,"sm":-0.0007},
{"w":204,"d":-0.0014,"cp":0,"sp":-0.0003,"cm":-0.0022,"sm":0.0002},
{"w":205,"d":-0.0005,"cp":0.0008,"sp":0.0002,"cm":-0.001,"sm":-0.0004},
{"w":210,"d":-0.0016,"cp":0.0007,"sp":-0.0001,"cm":-0.0009,"sm":-0.0006},
{"w":215,"d":-0.0017,"cp":0.0007,"sp":0.0005,"cm":-0.001,"sm":-0.0007},
{"w":220,"d":-0.0015,"cp":0.0006,"sp":0.0004,"cm":-0.001,"sm":-0.0002},
{"w":225,"d":-0.0014,"cp":0.0008,"sp":-0.0003,"cm":-0.0009,"sm":-0.0002},
{"w":230,"d":-0.0012,"cp":0.0008,"sp":0,"cm":-0.0009,"sm":-0.0007},
{"w":235,"d":-0.0012,"cp":0.0006,"sp":0.0005,"cm":-0.001,"sm":-0.0007},
{"w":240,"d":0.0008,"cp":0.0007,"sp":0.0003,"cm":-0.001,"sm":-0.0004},
{"w":245,"d":-0.0012,"cp":0.0008,"sp":0.0001,"cm":-0.0009,"sm":-0.0003},
{"w":250,"d":-0.0012,"cp":0.0006,"sp":0.0005,"cm":-0.0009,"sm":-0.0001},
{"w":255,"d":-0.0011,"cp":0.0007,"sp":0.0006,"cm":-0.001,"sm":-0.0007},
{"w":260,"d":-0.0011,"cp":0.0008,"sp":-0.0002,"cm":-0.001,"sm":-0.0006},
{"w":265,"d":-0.0012,"cp":0.0009,"sp":-0.0002,"cm":-0.0009,"sm":-0.0004},
{"w":270,"d":-0.0012,"cp":0.0007,"sp":0.0002,"cm":-0.0009,"sm":-0.0008},
{"w":275,"d":-0.0012,"cp":0.0007,"sp":0.0005,"cm":-0.001,"sm":-0.0007},
{"w":280,"d":-0.0013,"cp":0.0009,"sp":0.0004,"cm":-0.001,"sm":-0.0003},
{"w":285,"d":-0.0013,"cp":0.0008,"sp":0.0001,"cm":-0.0009,"sm":-0.0002},
{"w":290,"d":-0.0012,"cp":0.0007,"sp":0,"cm":-0.0009,"sm":-0.0006},
{"w":295,"d":-0.0011,"cp":0.0007,"sp":0.0006,"cm":-0.001,"sm":-0.0006},
{"w":300,"d":-0.0011,"cp":0.0008,"sp":0.0005,"cm":-0.001,"sm":-0.0002},
{"w":305,"d":-0.0011,"cp":0.0009,"sp":-0.0002,"cm":-0.0009,"sm":-0.0004},
{"w":310,"d":-0.001,"cp":0.0009,"sp":0.0001,"cm":-0.0009,"sm":-0.0007},
{"w":315,"d":-0.001,"cp":0.0008,"sp":0.0005,"cm":-0.001,"sm":-0.0007},
{"w":320,"d":-0.0009,"cp":0.0008,"sp":0.0003,"cm":-0.001,"sm":-0.0004},
{"w":325,"d":-0.0009,"cp":0.0009,"sp":0.0002,"cm":-0.001,"sm":-0.0002},
{"w":330,"d":-0.0008,"cp":0.001,"sp":-0.0001,"cm":-0.0011,"sm":-0.0006},
{"w":335,"d":-0.0007,"cp":0.0012,"sp":0.0007,"cm":-0.0012,"sm":-0.0008},
{"w":340,"d":-0.0006,"cp":0.0014,"sp":0.0006,"cm":-0.0014,"sm":-0.0003},
{"w":345,"d":-0.0003,"cp":0.0016,"sp":0.0012,"cm":-0.0015,"sm":-0.001},
{"w":350,"d":-0.0005,"cp":0.0017,"sp":0.0009,"cm":-0.0017,"sm":-0.0005},
{"w":355,"d":-0.0011,"cp":0.0015,"sp":-0.0001,"cm":-0.0016,"sm":-0.0013},
{"w":360,"d":0.0002,"cp":0.0015,"sp":0.0002,"cm":-0.0016,"sm":-0.0011},
{"w":365,"d":0.0007,"cp":0.0016,"sp":0.0007,"cm":-0.0017,"sm":-0.0002},
{"w":370,"d":0.001,"cp":0.0016,"sp":0.0011,"cm":-0.0015,"sm":-0.0003},
{"w":375,"d":0.0011,"cp":0.0015,"sp":0.0013,"cm":-0.0016,"sm":-0.0007},
{"w":380,"d":0.0005,"cp":0.0014,"sp":0.0005,"cm":-0.0017,"sm":-0.0009},
{"w":385,"d":-0.0011,"cp":0.0014,"sp":0.0003,"cm":-0.0015,"sm":-0.0012},
{"w":390,"d":-0.0012,"cp":0.0016,"sp":0,"cm":-0.0016,"sm":-0.0013},
{"w":395,"d":0.001,"cp":0.0016,"sp":0.001,"cm":-0.0016,"sm":-0.0003},
{"w":400,"d":0.0008,"cp":0.0015,"sp":0.0008,"cm":-0.0015,"sm":-0.0006},
{"w":405,"d":-0.0007,"cp":0.0015,"sp":-0.0002,"cm":-0.0017,"sm":-0.0008},
{"w":410,"d":0.0012,"cp":0.0016,"sp":0.0012,"cm":-0.0017,"sm":-0.0001},
{"w":415,"d":-0.0012,"cp":0.0016,"sp":0.0006,"cm":-0.0015,"sm":-0.0013},
{"w":420,"d":-0.001,"cp":0.0014,"sp":0.0004,"cm":-0.0016,"sm":-0.001},
{"w":425,"d":0.0012,"cp":0.0014,"sp":0.0012,"cm":-0.0016,"sm":-0.0003},
{"w":430,"d":0.0009,"cp":0.0016,"sp":0.0009,"cm":-0.0015,"sm":-0.0005},
{"w":435,"d":-0.0009,"cp":0.0016,"sp":0.0004,"cm":-0.0017,"sm":-0.0009},
{"w":440,"d":-0.0012,"cp":0.0015,"sp":0.0001,"cm":-0.0017,"sm":-0.0012},
{"w":445,"d":0.0011,"cp":0.0015,"sp":0.0011,"cm":-0.0015,"sm":-0.0001},
{"w":450,"d":0.001,"cp":0.0016,"sp":0.001,"cm":-0.0016,"sm":-0.0003},
{"w":455,"d":-0.0013,"cp":0.0016,"sp":-0.0001,"cm":-0.0016,"sm":-0.0013},
{"w":460,"d":0.0006,"cp":0.0014,"sp":0.0006,"cm":-0.0015,"sm":-0.0008},
{"w":465,"d":0.0008,"cp":0.0014,"sp":0.0008,"cm":-0.0017,"sm":-0.0006},
{"w":470,"d":-0.0011,"cp":0.0016,"sp":0.0002,"cm":-0.0017,"sm":-0.0011},
{"w":475,"d":0.0013,"cp":0.0016,"sp":0.0013,"cm":-0.0015,"sm":-0.0011},
{"w":480,"d":0.0011,"cp":0.0015,"sp":0.0011,"cm":-0.0016,"sm":-0.0004},
{"w":485,"d":0.0003,"cp":0.0015,"sp":0.0003,"cm":-0.0016,"sm":-0.0002},
{"w":490,"d":-0.0009,"cp":0.0017,"sp":0.0005,"cm":-0.0015,"sm":-0.0009},
{"w":495,"d":0.0008,"cp":0.002,"sp":0.0008,"cm":-0.0019,"sm":-0.0002},
{"w":500,"d":-0.0012,"cp":0.0016,"sp":0,"cm":-0.0017,"sm":-0.0012},
{"w":505,"d":0.0012,"cp":0.0015,"sp":0.0012,"cm":-0.0015,"sm":-0.0008},
{"w":510,"d":0.0009,"cp":0.0015,"sp":0.0009,"cm":-0.0016,"sm":-0.0006},
{"w":515,"d":-0.0013,"cp":0.0016,"sp":-0.0002,"cm":-0.0016,"sm":-0.0013},
{"w":520,"d":-0.0001,"cp":0.0016,"sp":0.0003,"cm":-0.0015,"sm":-0.0001},
{"w":525,"d":0.0007,"cp":0.0014,"sp":0.0007,"cm":-0.0017,"sm":-0.0003},
{"w":530,"d":0.0012,"cp":0.0014,"sp":0.0012,"cm":-0.0017,"sm":-0.001},
{"w":535,"d":-0.001,"cp":0.0016,"sp":0.0011,"cm":-0.0015,"sm":-0.001},
{"w":540,"d":0.0006,"cp":0.0016,"sp":0.0006,"cm":-0.0016,"sm":-0.0004},
{"w":545,"d":0.0002,"cp":0.0015,"sp":0.0002,"cm":-0.0016,"sm":-0.0001},
{"w":550,"d":-0.0013,"cp":0.0015,"sp":0.0001,"cm":-0.0015,"sm":-0.0013},
{"w":555,"d":-0.0012,"cp":0.0016,"sp":0.0009,"cm":-0.0017,"sm":-0.0012},
{"w":560,"d":0.001,"cp":0.0016,"sp":0.001,"cm":-0.0017,"sm":-0.0007},
{"w":565,"d":0.0013,"cp":0.0014,"sp":0.0013,"cm":-0.0015,"sm":-0.0005},
{"w":570,"d":0.0004,"cp":0.0014,"sp":0.0004,"cm":-0.0016,"sm":-0.0002},
{"w":575,"d":-0.0009,"cp":0.0016,"sp":-0.0001,"cm":-0.0016,"sm":-0.0009},
{"w":580,"d":-0.0011,"cp":0.0016,"sp":0.0008,"cm":-0.0015,"sm":-0.0011},
{"w":585,"d":-0.0013,"cp":0.0015,"sp":0.0006,"cm":-0.0017,"sm":-0.0013},
{"w":590,"d":-0.0005,"cp":0.0015,"sp":0,"cm":-0.0017,"sm":-0.0005},
{"w":595,"d":0.0012,"cp":0.0016,"sp":0.0012,"cm":-0.0015,"sm":-0.0002},
{"w":600,"d":0.0011,"cp":0.0016,"sp":0.0011,"cm":-0.0016,"sm":-0.0009},
{"w":605,"d":-0.0007,"cp":0.0014,"sp":0.0003,"cm":-0.0016,"sm":-0.0007},
{"w":610,"d":0.0005,"cp":0.0014,"sp":0.0005,"cm":-0.0015,"sm":-0.0003},
{"w":615,"d":0.001,"cp":0.0016,"sp":0.001,"cm":-0.0017,"sm":-0.0011},
{"w":620,"d":-0.0012,"cp":0.0015,"sp":0.0002,"cm":-0.0016,"sm":-0.0012},
{"w":625,"d":-0.0001,"cp":0.0015,"sp":-0.0002,"cm":-0.0015,"sm":-0.0001},
{"w":630,"d":0.0009,"cp":0.0016,"sp":0.0009,"cm":-0.0015,"sm":-0.0006},
{"w":635,"d":-0.0013,"cp":0.0014,"sp":0.0007,"cm":-0.0016,"sm":-0.0013},
{"w":640,"d":0.0012,"cp":0.0014,"sp":0.0012,"cm":-0.0016,"sm":-0.0001},
{"w":645,"d":0.0011,"cp":0.0015,"sp":0.0011,"cm":-0.0015,"sm":-0.0006},
{"w":650,"d":-0.001,"cp":0.0015,"sp":0.0004,"cm":-0.0015,"sm":-0.001},
{"w":655,"d":-0.0009,"cp":0.0014,"sp":0.0002,"cm":-0.0016,"sm":-0.0009},
{"w":660,"d":0.0007,"cp":0.0014,"sp":0.0007,"cm":-0.0014,"sm":-0.0004},
{"w":665,"d":0.0012,"cp":0.0015,"sp":0.0012,"cm":-0.0014,"sm":-0.0001},
{"w":670,"d":-0.0008,"cp":0.0015,"sp":0.0001,"cm":-0.0015,"sm":-0.0008},
{"w":675,"d":-0.0011,"cp":0.0013,"sp":-0.0001,"cm":-0.0015,"sm":-0.0011},
{"w":680,"d":0.001,"cp":0.0013,"sp":0.001,"cm":-0.0014,"sm":-0.0012},
{"w":685,"d":0.0006,"cp":0.0014,"sp":0.0006,"cm":-0.0014,"sm":-0.0006},
{"w":690,"d":0.0005,"cp":0.0014,"sp":0.0005,"cm":-0.0013,"sm":-0.0003},
{"w":695,"d":-0.001,"cp":0.0013,"sp":0.0011,"cm":-0.0013,"sm":-0.001},
{"w":700,"d":0.0008,"cp":0.0013,"sp":0.0008,"cm":-0.0014,"sm":-0.0007},
{"w":705,"d":0.0005,"cp":0.0013,"sp":0.0001,"cm":-0.0013,"sm":-0.0002},
{"w":710,"d":0.001,"cp":0.0012,"sp":0.0002,"cm":-0.0012,"sm":-0.0009},
{"w":715,"d":0.0011,"cp":0.0012,"sp":0.0008,"cm":-0.0011,"sm":-0.0007},
{"w":720,"d":0.0012,"cp":0.0011,"sp":0.0007,"cm":-0.0011,"sm":-0.0004},
{"w":725,"d":0.001,"cp":0.0011,"sp":-0.0002,"cm":-0.0012,"sm":-0.0003},
{"w":730,"d":0.0011,"cp":0.0013,"sp":0,"cm":-0.0012,"sm":-0.001},
{"w":735,"d":0.0012,"cp":0.0013,"sp":0.0006,"cm":-0.0011,"sm":-0.0009},
{"w":740,"d":0.0009,"cp":0.0012,"sp":0.0009,"cm":-0.0011,"sm":-0.0002},
{"w":745,"d":0.0009,"cp":0.0012,"sp":0.0002,"cm":-0.0012,"sm":-0.0001},
{"w":750,"d":0.0012,"cp":0.0014,"sp":0.0004,"cm":-0.0013,"sm":-0.0007},
{"w":755,"d":0.0011,"cp":0.0013,"sp":0.0009,"cm":-0.0012,"sm":-0.001},
{"w":760,"d":0.001,"cp":0.0011,"sp":0.0006,"cm":-0.0011,"sm":-0.0005},
{"w":765,"d":0.001,"cp":0.0011,"sp":-0.0001,"cm":-0.0011,"sm":-0.0004},
{"w":770,"d":0.0008,"cp":0.0012,"sp":0.0001,"cm":-0.0012,"sm":-0.0009},
{"w":775,"d":0.0012,"cp":0.0012,"sp":0.0007,"cm":-0.0012,"sm":-0.0008},
{"w":780,"d":0.0016,"cp":0.0013,"sp":0.0008,"cm":-0.0011,"sm":-0.0003},
{"w":785,"d":0.0013,"cp":0.0012,"sp":0.0003,"cm":-0.0011,"sm":-0.0002},
{"w":790,"d":0.0008,"cp":0.0011,"sp":0.0003,"cm":-0.0012,"sm":-0.0008},
{"w":795,"d":0.001,"cp":0.0011,"sp":0.0009,"cm":-0.0012,"sm":-0.0009},
{"w":800,"d":0.0009,"cp":0.0012,"sp":0.0005,"cm":-0.0011,"sm":-0.0006},
{"w":805,"d":-0.0003}
  ]},
  "transform": [{"fold": ["d", "cp", "cm", "sp", "sm"], "as": ["k", "v"]}],
  "encoding": {
    "x": {"field": "w", "type": "quantitative", "scale": {"domain": [200, 803], "nice": false, "zero": false}, "axis": {"values": [200, 400, 600, 800], "title": "Wavelength/nm"}},
    "y": {"field": "v", "type": "quantitative", "scale": {"domain": [-0.004, 0.004], "nice": false, "zero": false}, "axis": {"values": [-0.004, -0.002, 0, 0.002, 0.004], "title": "Abs.", "labelExpr": "'' + datum.value"}},
    "fill": {"field": "k", "type": "nominal", "scale": {"domain": ["d", "cp", "cm", "sp", "sm"], "range": ["transparent", "#b6b6b6", "#bababa", "#bebebe", "#c2c2c2"]}, "legend": {"title": null, "orient": "none", "legendX": 235, "legendY": 44, "labelExpr": "datum.value == 'd' ? 'Delta A' : datum.value == 'cp' ? 'Con-sd+' : datum.value == 'cm' ? 'Con-sd-' : datum.value == 'sp' ? 'Sam-sd+' : 'Sam-sd-'"}},
    "stroke": {"field": "k", "type": "nominal", "scale": {"domain": ["d", "cp", "cm", "sp", "sm"], "range": ["#5b9bd5", "#a4a4a4", "#a4a4a4", "#a8a8a8", "#aaaaaa"]}, "legend": {"title": null, "orient": "none", "legendX": 235, "legendY": 44, "labelExpr": "datum.value == 'd' ? 'Delta A' : datum.value == 'cp' ? 'Con-sd+' : datum.value == 'cm' ? 'Con-sd-' : datum.value == 'sp' ? 'Sam-sd+' : 'Sam-sd-'"}}
  },
  "layer": [
    {"transform": [{"filter": "datum.k == 'd'"}], "mark": {"type": "circle", "size": 180, "strokeWidth": 1.5, "opacity": 1}, "encoding": {"fill": {"value": "rgba(91,155,213,0.25)"}}},
    {"transform": [{"filter": "datum.k != 'd'"}], "mark": {"type": "circle", "size": 100, "strokeWidth": 1, "opacity": 1}}
  ]
}
]
}
